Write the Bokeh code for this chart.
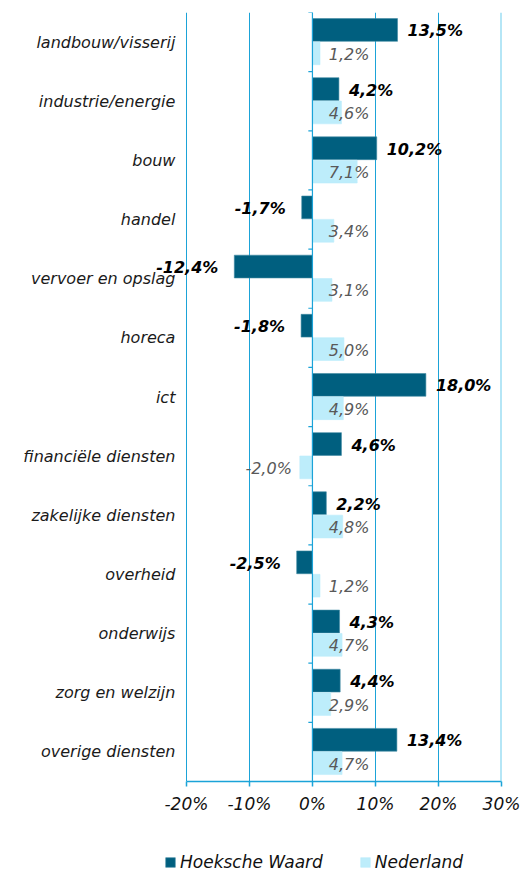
from bokeh.plotting import figure
from bokeh.layouts import column
from bokeh.models import (ColumnDataSource, FixedTicker, Legend, LegendItem, Span)
from bokeh.core.properties import value
from bokeh.embed import file_html
from bokeh.resources import INLINE

categories = ["landbouw/visserij", "industrie/energie", "bouw", "handel",
              "vervoer en opslag", "horeca", "ict", "financiële diensten",
              "zakelijke diensten", "overheid", "onderwijs", "zorg en welzijn",
              "overige diensten"]
hoeksche_waard = [13.5, 4.2, 10.2, -1.7, -12.4, -1.8, 18.0, 4.6, 2.2, -2.5, 4.3, 4.4, 13.4]
nederland = [1.2, 4.6, 7.1, 3.4, 3.1, 5.0, 4.9, -2.0, 4.8, 1.2, 4.7, 2.9, 4.7]
x_ticks = [-20, -10, 0, 10, 20, 30]
series_names = ["Hoeksche Waard", "Nederland"]

DARK = "#005F7F"
LIGHT = "#BDEDFB"
GRID = "#1BA3D8"
FONT = "DejaVu Sans"

n = len(categories)
ypos = [n - 1 - i for i in range(n)]

def fmt(v):
    return ("%.1f%%" % v).replace(".", ",")

src = ColumnDataSource(dict(
    y=ypos, cat=categories, hw=hoeksche_waard, nl=nederland,
    y_hw=[y + 0.205 for y in ypos], y_nl=[y - 0.19 for y in ypos],
))

# frame extends to the figure's left edge so that labels are never clipped
p = figure(width=526, height=826, output_backend="svg", toolbar_location=None,
           x_range=(-49.5, x_ticks[-1]), y_range=(-0.5, n - 0.5),
           min_border_left=0, min_border_right=25, min_border_top=12,
           min_border_bottom=45)
p.outline_line_color = None
p.background_fill_color = "white"
p.yaxis.visible = False

# grid
p.xgrid.ticker = FixedTicker(ticks=x_ticks)
p.xgrid.grid_line_color = GRID
p.xgrid.grid_line_width = 1
p.ygrid.grid_line_color = None
p.add_layout(Span(location=x_ticks[-1], dimension="height", line_color="#6CCDEE", line_width=2))

bar_style = [dict(fill_color=DARK, line_color="#3F8AA3", line_width=0.6),
             dict(fill_color=LIGHT, line_color=LIGHT, line_width=0.6)]
p.hbar(y="y_hw", left=0, right="hw", height=0.385, source=src, **bar_style[0])
p.hbar(y="y_nl", left=0, right="nl", height=0.385, source=src, **bar_style[1])

# vertical axis line at 0 with ticks between categories
bounds = [b - 0.5 for b in range(n + 1)]
p.segment(x0=[-0.65] * len(bounds), x1=[0] * len(bounds), y0=bounds, y1=bounds,
          line_color=GRID, line_width=1.2)
p.add_layout(Span(location=0, dimension="height", line_color=GRID, line_width=1.2))

# category labels, left of the -20% line
p.text(x=[x_ticks[0]] * n, y=ypos, text=categories, x_offset=-11,
       text_align="right", text_baseline="middle", text_font=value(FONT),
       text_font_style="italic", text_font_size="16px", text_color="#1a1a1a")

# x axis
p.xaxis.ticker = FixedTicker(ticks=x_ticks)
p.xaxis.bounds = (x_ticks[0], x_ticks[-1])
p.xaxis.major_label_overrides = {t: "%d%%" % t for t in x_ticks}
p.xaxis.axis_line_color = GRID
p.xaxis.axis_line_width = 1.5
p.xaxis.major_tick_line_color = GRID
p.xaxis.major_tick_line_width = 1.5
p.xaxis.major_tick_out = 5
p.xaxis.major_tick_in = 0
p.xaxis.minor_tick_line_color = None
p.xaxis.major_label_text_font = FONT
p.xaxis.major_label_text_font_style = "italic"
p.xaxis.major_label_text_font_size = "17px"
p.xaxis.major_label_text_color = "#111111"
p.xaxis.major_label_standoff = 7

# value labels
def split(vals, yk):
    pos = dict(x=[], y=[], t=[])
    neg = dict(x=[], y=[], t=[])
    for v, yy in zip(vals, src.data[yk]):
        d = pos if v >= 0 else neg
        d["x"].append(v); d["y"].append(yy); d["t"].append(fmt(v))
    return pos, neg

hp, hn = split(hoeksche_waard, "y_hw")
bold = dict(text_baseline="middle", text_font=value(FONT), text_font_style="bold italic",
            text_font_size="16px", text_color="black", y_offset=1)
p.text(x=hp["x"], y=hp["y"], text=hp["t"], x_offset=10, text_align="left", **bold)
p.text(x=hn["x"], y=hn["y"], text=hn["t"], x_offset=-16, text_align="right", **bold)

npos, nneg = split(nederland, "y_nl")
grey = dict(text_baseline="middle", text_font=value(FONT), text_font_style="italic",
            text_font_size="16px", text_color="#595959", y_offset=1)
p.text(x=[0] * len(npos["x"]), y=npos["y"], text=npos["t"], x_offset=57,
       text_align="right", **grey)
p.text(x=nneg["x"], y=nneg["y"], text=nneg["t"], x_offset=-8, text_align="right", **grey)

# legend strip below the chart (its proxy glyphs lie outside the strip's range)
lg = figure(width=526, height=49, output_backend="svg", toolbar_location=None,
            min_border=0, x_range=(1, 2), y_range=(1, 2))
lg.axis.visible = False
lg.grid.visible = False
lg.outline_line_color = None
proxy = ColumnDataSource(dict(y=[0], r=[0]))
l_hw = lg.hbar(y="y", left=0, right="r", height=0.1, source=proxy, **bar_style[0])
l_nl = lg.hbar(y="y", left=0, right="r", height=0.1, source=proxy, **bar_style[1])
legend = Legend(items=[LegendItem(label=series_names[0], renderers=[l_hw]),
                       LegendItem(label=series_names[1], renderers=[l_nl])],
                orientation="horizontal", location=(164, 3),
                glyph_width=12, glyph_height=12, label_standoff=4, spacing=36,
                padding=0, margin=0, border_line_color=None, background_fill_alpha=0,
                label_text_font=FONT, label_text_font_style="italic",
                label_text_font_size="17px", label_text_color="#111111")
lg.add_layout(legend, "center")

page = column(p, lg, spacing=0)
open("out.html", "w").write(file_html(page, INLINE))
